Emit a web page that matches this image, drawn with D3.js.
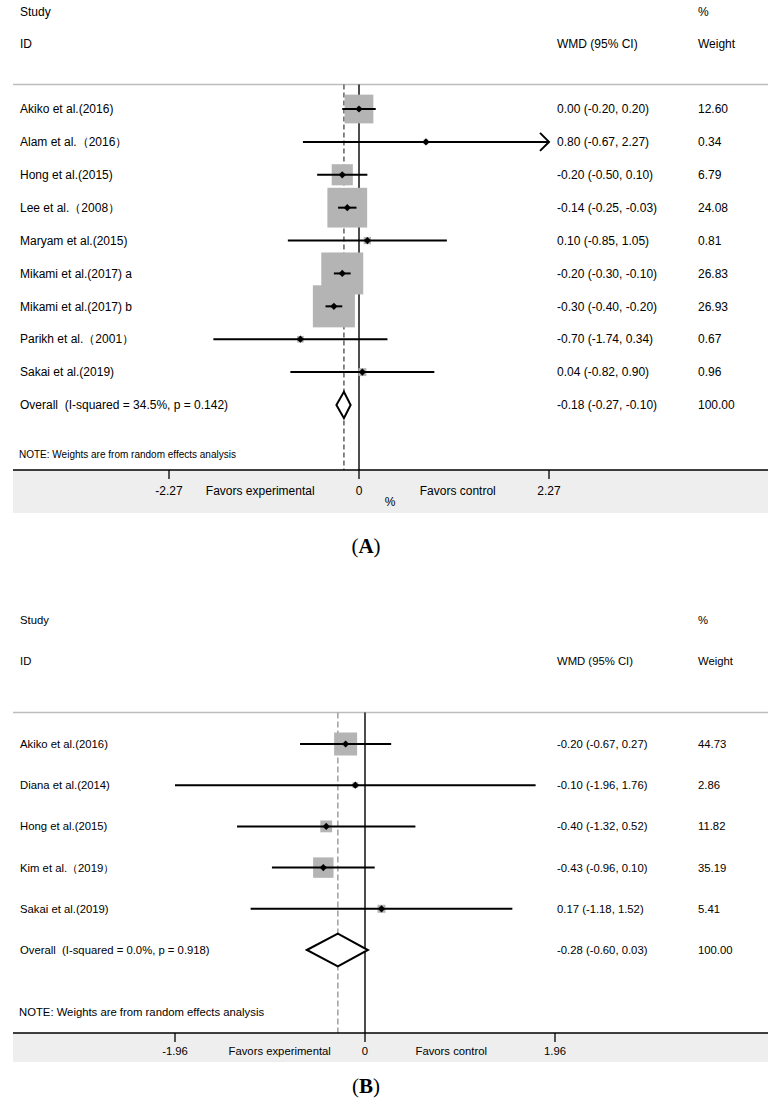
<!DOCTYPE html>
<html>
<head>
<meta charset="utf-8">
<script src="https://cdn.jsdelivr.net/npm/d3@7/dist/d3.min.js"></script>
<style>
  html, body { margin: 0; padding: 0; background: #fff; }
  svg text { font-family: "Liberation Sans", Arial, sans-serif; fill: #000; white-space: pre; }
</style>
</head>
<body>
<svg id="chart" width="781" height="1104"></svg>
<script>
// ---------- Panel A data ----------
const studiesA = ["Akiko et al.(2016)", "Alam et al.（2016）", "Hong et al.(2015)", "Lee et al.（2008）",
  "Maryam et al.(2015)", "Mikami et al.(2017) a", "Mikami et al.(2017) b", "Parikh et al.（2001）", "Sakai et al.(2019)"];
const wmdA = [0.00, 0.80, -0.20, -0.14, 0.10, -0.20, -0.30, -0.70, 0.04];
const lowA = [-0.20, -0.67, -0.50, -0.25, -0.85, -0.30, -0.40, -1.74, -0.82];
const highA = [0.20, 2.27, 0.10, -0.03, 1.05, -0.10, -0.20, 0.34, 0.90];
const weightA = [12.60, 0.34, 6.79, 24.08, 0.81, 26.83, 26.93, 0.67, 0.96];
const overallA = { label: "Overall  (I-squared = 34.5%, p = 0.142)", est: -0.18, low: -0.27, high: -0.10, weight: 100.00 };
const ticksA = [-2.27, 0, 2.27];
const tickLabelsA = ["-2.27", "0", "2.27"];

// ---------- Panel B data ----------
const studiesB = ["Akiko et al.(2016)", "Diana et al.(2014)", "Hong et al.(2015)", "Kim et al.（2019）", "Sakai et al.(2019)"];
const wmdB = [-0.20, -0.10, -0.40, -0.43, 0.17];
const lowB = [-0.67, -1.96, -1.32, -0.96, -1.18];
const highB = [0.27, 1.76, 0.52, 0.10, 1.52];
const weightB = [44.73, 2.86, 11.82, 35.19, 5.41];
const overallB = { label: "Overall  (I-squared = 0.0%, p = 0.918)", est: -0.28, low: -0.60, high: 0.03, weight: 100.00 };
const ticksB = [-1.96, 0, 1.96];
const tickLabelsB = ["-1.96", "0", "1.96"];

const noteText = "NOTE: Weights are from random effects analysis";

const svg = d3.select("#chart");
const f2 = d3.formatLocale({ decimal: ".", thousands: ",", grouping: [3], currency: ["", ""], minus: "-" }).format(".2f");

function drawPanel(p) {
  const g = svg.append("g");
  const x = d3.scaleLinear().domain(p.domain).range(p.xRange);
  const rows = p.studies.concat([p.overall.label]);
  const y = d3.scalePoint().domain(rows).range(p.yRows);
  const step = y.step();
  const fs = p.fontSize;

  // header
  const hdr = [
    { t: "Study", x: 20, y: p.hdrY1 }, { t: "ID", x: 20, y: p.hdrY2 },
    { t: "%", x: 698, y: p.hdrY1 }, { t: "WMD (95% CI)", x: 557, y: p.hdrY2 }, { t: "Weight", x: 698, y: p.hdrY2 }
  ];
  g.selectAll("text.hdr").data(hdr).join("text").attr("class", "hdr")
    .attr("x", d => d.x).attr("y", d => d.y).attr("dy", "0.35em")
    .style("font-size", fs + "px").text(d => d.t);
  g.append("line").attr("x1", 13).attr("x2", 768).attr("y1", p.lineY).attr("y2", p.lineY)
    .attr("stroke", "#bdbdbd").attr("stroke-width", 1.3);

  // axis band
  g.append("rect").attr("x", 13).attr("y", p.axisY).attr("width", 755).attr("height", p.bandH)
    .attr("fill", "#eeeeee");

  // reference lines
  g.append("line").attr("x1", x(0)).attr("x2", x(0)).attr("y1", p.lineY).attr("y2", p.axisY)
    .attr("stroke", "#000").attr("stroke-width", 1.4);
  g.append("line").attr("x1", x(p.overall.est)).attr("x2", x(p.overall.est)).attr("y1", p.lineY).attr("y2", p.axisY)
    .attr("stroke", p.dashColor).attr("stroke-width", 1.4).attr("stroke-dasharray", p.dash);

  // axis line & ticks
  g.append("line").attr("x1", 13).attr("x2", 768).attr("y1", p.axisY).attr("y2", p.axisY)
    .attr("stroke", "#000").attr("stroke-width", 1.5);
  g.selectAll("line.tick").data(p.ticks).join("line").attr("class", "tick")
    .attr("x1", d => x(d)).attr("x2", d => x(d)).attr("y1", p.axisY).attr("y2", p.axisY + 9)
    .attr("stroke", "#000").attr("stroke-width", 1.3);
  g.selectAll("text.tl").data(p.ticks).join("text").attr("class", "tl")
    .attr("x", d => x(d)).attr("y", p.tickLabelY).attr("dy", "0.35em").attr("text-anchor", "middle")
    .style("font-size", p.axisFont + "px").text((d, i) => p.tickLabels[i]);
  g.selectAll("text.fav").data(p.favors).join("text").attr("class", "fav")
    .attr("x", d => x(d.v)).attr("y", p.tickLabelY).attr("dy", "0.35em").attr("text-anchor", "middle")
    .style("font-size", p.axisFont + "px").text(d => d.t);
  if (p.pct) {
    g.append("text").attr("x", x(p.pct.v)).attr("y", p.pct.y).attr("dy", "0.35em").attr("text-anchor", "middle")
      .style("font-size", p.axisFont + "px").text("%");
  }

  // note
  g.append("text").attr("x", 19).attr("y", p.noteY).attr("dy", "0.35em")
    .style("font-size", p.noteFont + "px").text(noteText);

  const data = p.studies.map((s, i) => ({ s, est: p.est[i], lo: p.low[i], hi: p.high[i], w: p.weight[i] }));

  // boxes
  g.selectAll("rect.box").data(data).join("rect").attr("class", "box")
    .attr("x", d => x(d.est) - p.k * Math.sqrt(d.w) / 2)
    .attr("y", d => y(d.s) - p.k * Math.sqrt(d.w) / 2)
    .attr("width", d => p.k * Math.sqrt(d.w))
    .attr("height", d => p.k * Math.sqrt(d.w))
    .attr("fill", "#b4b4b4");

  // CI lines
  g.selectAll("line.ci").data(data).join("line").attr("class", "ci")
    .attr("x1", d => x(Math.max(d.lo, p.domain[0]))).attr("x2", d => x(Math.min(d.hi, p.domain[1])))
    .attr("y1", d => y(d.s)).attr("y2", d => y(d.s))
    .attr("stroke", "#000").attr("stroke-width", 2);
  // arrows for truncated CIs
  g.selectAll("path.arrow").data(data.filter(d => d.hi >= p.domain[1])).join("path").attr("class", "arrow")
    .attr("d", d => { const xx = x(p.domain[1]), yy = y(d.s); return `M${xx - 9},${yy - 9}L${xx},${yy}L${xx - 9},${yy + 9}`; })
    .attr("fill", "none").attr("stroke", "#000").attr("stroke-width", 2);

  // point markers
  g.selectAll("path.pt").data(data).join("path").attr("class", "pt")
    .attr("d", d => { const xx = x(d.est), yy = y(d.s), r = 3.6; return `M${xx},${yy - r}L${xx + r},${yy}L${xx},${yy + r}L${xx - r},${yy}Z`; })
    .attr("fill", "#000");

  // overall diamond
  const o = p.overall, oy = y(o.label), hh = step * 0.4;
  g.append("path")
    .attr("d", `M${x(o.low)},${oy}L${x(o.est)},${oy - hh}L${x(o.high)},${oy}L${x(o.est)},${oy + hh}Z`)
    .attr("fill", "#fff").attr("stroke", "#000").attr("stroke-width", 2);

  // row texts
  const rowData = data.map(d => ({ lab: d.s, ci: `${f2(d.est)} (${f2(d.lo)}, ${f2(d.hi)})`, w: f2(d.w) }))
    .concat([{ lab: o.label, ci: `${f2(o.est)} (${f2(o.low)}, ${f2(o.high)})`, w: f2(o.weight) }]);
  g.selectAll("text.lab").data(rowData).join("text").attr("class", "lab")
    .attr("x", 20).attr("y", d => y(d.lab)).attr("dy", "0.35em").style("font-size", fs + "px").text(d => d.lab);
  g.selectAll("text.ci").data(rowData).join("text").attr("class", "ci")
    .attr("x", 557).attr("y", d => y(d.lab)).attr("dy", "0.35em").style("font-size", fs + "px").text(d => d.ci);
  g.selectAll("text.wt").data(rowData).join("text").attr("class", "wt")
    .attr("x", 698).attr("y", d => y(d.lab)).attr("dy", "0.35em").style("font-size", fs + "px").text(d => d.w);

  // panel label
  const pl = g.append("text").attr("x", 366).attr("y", p.panelLabelY).attr("text-anchor", "middle")
    .style("font-family", "'Liberation Serif', 'DejaVu Serif', serif").style("font-size", "21px");
  pl.append("tspan").text("(");
  pl.append("tspan").style("font-weight", "bold").text(p.panelLabel);
  pl.append("tspan").text(")");
}

drawPanel({
  studies: studiesA, est: wmdA, low: lowA, high: highA, weight: weightA, overall: overallA,
  ticks: ticksA, tickLabels: tickLabelsA, domain: [-2.27, 2.27], xRange: [169, 549],
  yRows: [109, 405], hdrY1: 12, hdrY2: 44, lineY: 84.5, axisY: 470, bandH: 43,
  tickLabelY: 491, noteY: 454, noteFont: 10, fontSize: 12, axisFont: 12, k: 8.1,
  dash: "5,3", dashColor: "#555",
  favors: [{ t: "Favors experimental", v: -1.18 }, { t: "Favors control", v: 1.18 }],
  pct: { v: 0.37, y: 502 }, panelLabel: "A", panelLabelY: 553
});

drawPanel({
  studies: studiesB, est: wmdB, low: lowB, high: highB, weight: weightB, overall: overallB,
  ticks: ticksB, tickLabels: tickLabelsB, domain: [-1.96, 1.96], xRange: [175, 555],
  yRows: [744, 950], hdrY1: 620, hdrY2: 661, lineY: 712.5, axisY: 1033, bandH: 29,
  tickLabelY: 1051, noteY: 1012.5, noteFont: 11.3, fontSize: 11.3, axisFont: 11.3, k: 3.44,
  dash: "6,3", dashColor: "#999",
  favors: [{ t: "Favors experimental", v: -0.88 }, { t: "Favors control", v: 0.89 }],
  pct: null, panelLabel: "B", panelLabelY: 1093
});
</script>
</body>
</html>
